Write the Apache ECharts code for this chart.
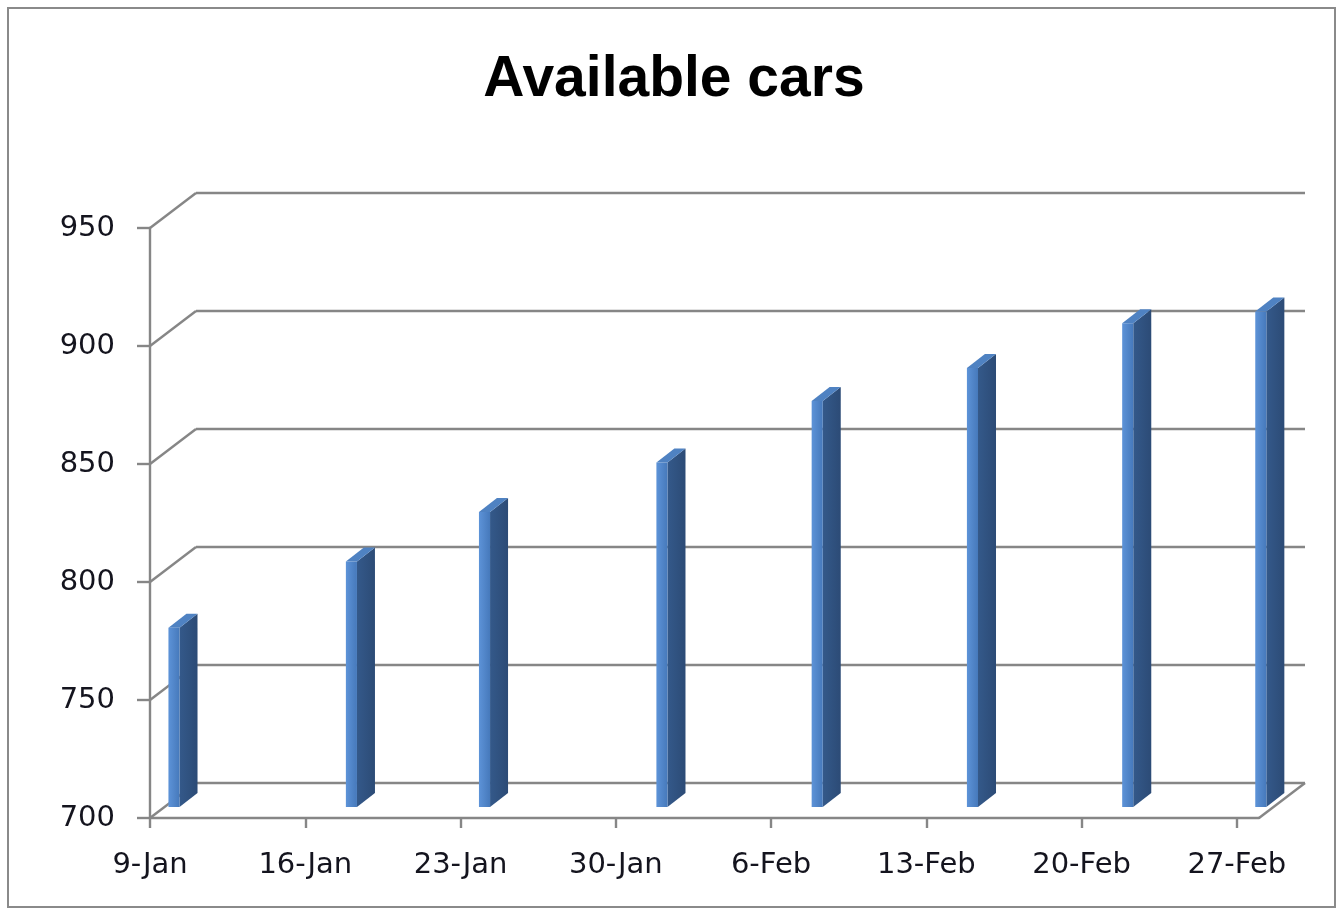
<!DOCTYPE html>
<html>
<head>
<meta charset="utf-8">
<script src="https://cdn.jsdelivr.net/npm/echarts@6/dist/echarts.min.js"></script>
<style>
html,body{margin:0;padding:0;background:#fff;}
#chart{width:1337px;height:909px;}
</style>
</head>
<body>
<div id="chart"></div>
<script>
// ---- data ----
const titleText = 'Available cars';
const dates = ['9-Jan', '17-Jan', '23-Jan', '31-Jan', '7-Feb', '14-Feb', '21-Feb', '27-Feb'];
const cars = [776, 804, 825, 846, 872, 886, 905, 910];
const xTickLabels = ['9-Jan', '16-Jan', '23-Jan', '30-Jan', '6-Feb', '13-Feb', '20-Feb', '27-Feb'];
const yTicks = [700, 750, 800, 850, 900, 950];

// ---- helpers ----
const monthStart = { Jan: 0, Feb: 31 };
const baseDay = 9; // axis starts on 9-Jan
function dayOffset(s) {
  const [d, m] = s.split('-');
  return monthStart[m] + Number(d) - baseDay;
}
const xTickValues = xTickLabels.map(dayOffset);
const axisDays = dayOffset('27-Feb') + 1; // one day slot per date

const DEPTH = [46, -35];     // back wall offset
const FRONT = [14, -11];     // bar front face offset
const BACK = [32, -25];      // bar back face offset
const lineColor = '#868686';
const lineW = 2.4;
const labelFont = { fontFamily: 'DejaVu Sans', fontSize: 29, color: '#14141e' };

const chart = echarts.init(document.getElementById('chart'));

const barData = dates.map((d, i) => [dayOffset(d), cars[i]]);
const diagData = yTicks.map(v => [0, v]).concat([[axisDays, yTicks[0]]]);

chart.setOption({
  animation: false,
  backgroundColor: '#fff',
  title: {
    text: titleText,
    left: 669, top: 47, textAlign: 'center',
    textStyle: { fontFamily: 'Liberation Sans', fontWeight: 'bold', fontSize: 57, color: '#000' }
  },
  graphic: [{
    type: 'rect', shape: { x: 8, y: 8, width: 1327, height: 899 },
    style: { fill: 'none', stroke: '#8a8a8a', lineWidth: 2 }, silent: true, z: -10
  }],
  grid: [
    { left: 150, right: 78, top: 228, bottom: 91 },
    { left: 150 + DEPTH[0], right: 78 - DEPTH[0], top: 228 + DEPTH[1], bottom: 91 - DEPTH[1] }
  ],
  xAxis: [{
    type: 'value', gridIndex: 0, min: 0, max: axisDays, interval: 7,
    axisLine: { show: true, lineStyle: { color: lineColor, width: lineW } },
    axisTick: { show: true, length: 10, customValues: xTickValues, lineStyle: { color: lineColor, width: lineW } },
    axisLabel: {
      customValues: xTickValues, margin: 33,
      formatter: v => xTickLabels[xTickValues.indexOf(v)] || '',
      ...labelFont
    },
    splitLine: { show: false }
  }, {
    type: 'value', gridIndex: 1, min: 0, max: axisDays, show: false
  }],
  yAxis: [{
    type: 'value', gridIndex: 0, min: 700, max: 950, interval: 50,
    axisLine: { show: true, lineStyle: { color: lineColor, width: lineW } },
    axisTick: { show: true, length: 13, lineStyle: { color: lineColor, width: lineW } },
    axisLabel: { margin: 35, ...labelFont },
    splitLine: { show: false }
  }, {
    type: 'value', gridIndex: 1, min: 700, max: 950, interval: 50,
    axisLine: { show: false }, axisTick: { show: false }, axisLabel: { show: false },
    splitLine: { show: true, lineStyle: { color: lineColor, width: lineW } }
  }],
  series: [{
    type: 'custom', xAxisIndex: 0, yAxisIndex: 0, data: diagData, z: 1,
    renderItem: (params, api) => {
      const p = api.coord([api.value(0), api.value(1)]);
      return {
        type: 'line',
        shape: { x1: p[0], y1: p[1], x2: p[0] + DEPTH[0], y2: p[1] + DEPTH[1] },
        style: { stroke: lineColor, lineWidth: lineW }
      };
    }
  }, {
    type: 'custom', xAxisIndex: 0, yAxisIndex: 0, data: barData, z: 5,
    renderItem: (params, api) => {
      const d = api.value(0), v = api.value(1);
      const tl = api.coord([d + 0.2, v]);
      const tr = api.coord([d + 0.7, v]);
      const bl = api.coord([d + 0.2, yTicks[0]]);
      const xl = tl[0], xr = tr[0], yt = tl[1], yb = bl[1];
      const F = FRONT, B = BACK;
      return {
        type: 'group',
        children: [{
          type: 'polygon',
          shape: { points: [[xr + F[0], yt + F[1]], [xr + B[0], yt + B[1]], [xr + B[0], yb + B[1]], [xr + F[0], yb + F[1]]] },
          style: { fill: new echarts.graphic.LinearGradient(0, 0, 1, 0, [{ offset: 0, color: '#34598a' }, { offset: 1, color: '#2c4b76' }]) }
        }, {
          type: 'polygon',
          shape: { points: [[xl + F[0], yt + F[1]], [xr + F[0], yt + F[1]], [xr + B[0], yt + B[1]], [xl + B[0], yt + B[1]]] },
          style: { fill: '#4f82c2' }
        }, {
          type: 'polygon',
          shape: { points: [[xl + F[0], yt + F[1]], [xr + F[0], yt + F[1]], [xr + F[0], yb + F[1]], [xl + F[0], yb + F[1]]] },
          style: { fill: new echarts.graphic.LinearGradient(0, 0, 1, 0, [{ offset: 0, color: '#5d93d8' }, { offset: 1, color: '#4679bb' }]) }
        }]
      };
    }
  }]
});
</script>
</body>
</html>
